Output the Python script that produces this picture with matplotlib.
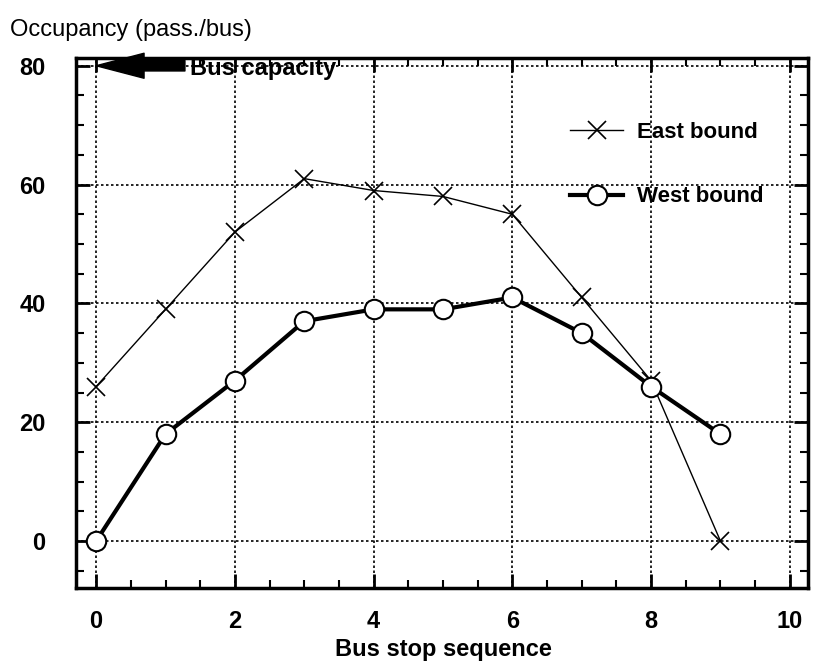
import matplotlib.pyplot as plt
from matplotlib.ticker import MultipleLocator

plt.rcParams["font.family"] = ["Liberation Sans", "DejaVu Sans"]

stops = [0, 1, 2, 3, 4, 5, 6, 7, 8, 9]
east_bound = [26, 39, 52, 61, 59, 58, 55, 41, 27, 0]
west_bound = [0, 18, 27, 37, 39, 39, 41, 35, 26, 18]
capacity = 80

fig = plt.figure(figsize=(8.21, 6.70), dpi=100)
ax = fig.add_axes([0.0926, 0.1224, 0.8914, 0.791])

ax.plot(stops, east_bound, color="black", lw=1.0, marker="x", ms=13,
        mew=1.2, label="East bound", zorder=3)
ax.plot(stops, west_bound, color="black", lw=3.0, marker="o", ms=14,
        mfc="white", mec="black", mew=1.5, label="West bound", zorder=4)

ax.annotate("", xy=(0.0, capacity), xytext=(1.28, capacity),
            arrowprops=dict(arrowstyle="simple,head_length=2.3,head_width=1.2,tail_width=0.5",
                            color="black", shrinkA=0, shrinkB=0,
                            mutation_scale=15), zorder=5)
ax.text(1.35, capacity, "Bus capacity", fontsize=17, fontweight="bold",
        va="center_baseline", ha="left", zorder=5)

ax.set_xlim(-0.29, 10.26)
ax.set_ylim(-7.9, 81.3)
ax.xaxis.set_major_locator(MultipleLocator(2))
ax.xaxis.set_minor_locator(MultipleLocator(0.5))
ax.yaxis.set_major_locator(MultipleLocator(20))
ax.yaxis.set_minor_locator(MultipleLocator(5))
ax.tick_params(which="both", direction="in", top=True, right=True,
               color="black")
ax.tick_params(which="major", length=10, width=2, labelsize=17, pad=16)
ax.tick_params(which="minor", length=6, width=1.5)
for lab in ax.get_xticklabels() + ax.get_yticklabels():
    lab.set_fontweight("bold")
ax.tick_params(axis="y", which="major", pad=22)
for sp in ax.spines.values():
    sp.set_linewidth(2.5)

ax.grid(which="major", color="black", ls=(0, (1.5, 1.5)), lw=1.2)

ax.legend(loc="upper left", bbox_to_anchor=(0.66, 0.9), frameon=False,
          prop=dict(size=16, weight="bold"), handlelength=2.4,
          labelspacing=1.95, handletextpad=0.6, borderpad=0)

fig.text(0.54, 0.03, "Bus stop sequence", fontsize=17, fontweight="bold",
         ha="center", va="center")
fig.text(0.012, 0.955, "Occupancy (pass./bus)", fontsize=17, ha="left",
         va="center")

fig.savefig("out.png", dpi=100)
